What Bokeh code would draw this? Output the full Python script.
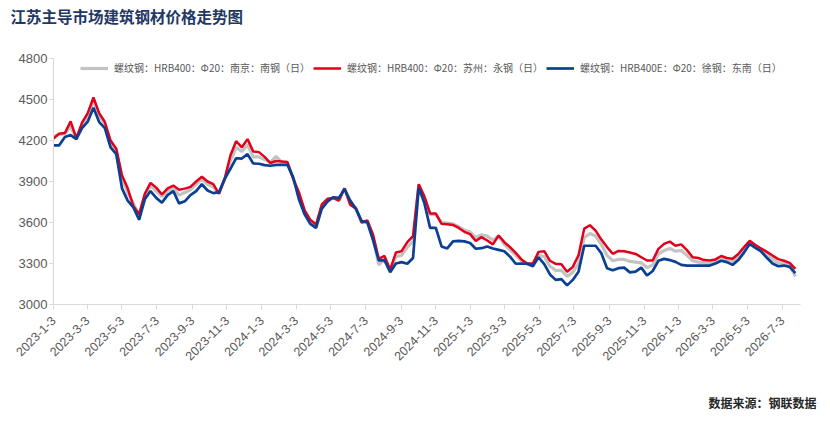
import math
import pandas as pd
from bokeh.plotting import figure
from bokeh.models import FixedTicker, Range1d, Legend, LegendItem, ColumnDataSource, Title
from bokeh.embed import file_html
from bokeh.resources import INLINE

title_text = "江苏主导市场建筑钢材价格走势图"
source_text = "数据来源：钢联数据"
series_names = [
    "螺纹钢：HRB400：Φ20：南京：南钢（日）",
    "螺纹钢：HRB400：Φ20：苏州：永钢（日）",
    "螺纹钢：HRB400E：Φ20：徐钢：东南（日）",
]
start_date = "2023-01-03"
end_date = "2026-08-04"
step_days = 10

# gray: Nanjing
nanjing = [
    4230, 4245, 4250, 4300, 4220, 4310, 4380, 4490, 4380, 4320,
    4180, 4130, 3920, 3820, 3740, 3650, 3795, 3870, 3830, 3790,
    3830, 3850, 3800, 3820, 3840, 3880, 3920, 3880, 3860, 3815,
    3915, 4050, 4150, 4120, 4170, 4080, 4080, 4060, 4040, 4085,
    4040, 4035, 3925, 3800, 3670, 3600, 3560, 3715, 3765, 3780,
    3765, 3850, 3740, 3705, 3600, 3610, 3490, 3290, 3330, 3245,
    3350, 3360, 3420, 3460, 3875, 3780, 3660, 3660, 3600, 3595,
    3590, 3570, 3545, 3530, 3490, 3510, 3500, 3470, 3500, 3440,
    3400, 3360, 3320, 3295, 3290, 3360, 3350, 3280, 3250, 3250,
    3205, 3235, 3300, 3490, 3520, 3500, 3440, 3360, 3320, 3330,
    3330, 3315, 3310, 3305, 3270, 3290, 3370, 3395, 3410, 3390,
    3395, 3360, 3320, 3310, 3305, 3300, 3310, 3335, 3325, 3315,
    3345, 3400, 3455, 3425, 3400, 3365, 3330, 3305, 3300, 3290,
    3205,
]
# red: Suzhou
suzhou = [
    4215, 4250, 4255, 4340, 4215, 4330, 4400, 4515, 4400, 4335,
    4200, 4140, 3946, 3850, 3720, 3660, 3810, 3890, 3855, 3805,
    3850, 3870, 3840, 3848, 3861, 3900, 3935, 3900, 3880, 3810,
    3920, 4090, 4195, 4150, 4210, 4120, 4115, 4080, 4035, 4050,
    4047, 4042, 3920, 3822, 3690, 3620, 3585, 3730, 3773, 3780,
    3760, 3850, 3730, 3700, 3600, 3615, 3510, 3334, 3355, 3255,
    3380, 3390, 3456, 3500, 3880, 3790, 3665, 3665, 3590, 3588,
    3582, 3560, 3532, 3515, 3465, 3493, 3468, 3440, 3505, 3456,
    3420, 3378, 3330, 3300, 3300, 3385, 3390, 3320, 3298, 3295,
    3240, 3275, 3360, 3555, 3580, 3541, 3475, 3420, 3371, 3392,
    3390, 3380, 3370, 3346, 3322, 3322, 3407, 3444, 3460, 3430,
    3440, 3398, 3346, 3340, 3325, 3322, 3330, 3355, 3340, 3335,
    3370, 3420, 3466, 3435, 3410, 3385, 3358, 3332, 3320, 3305,
    3260,
]
# blue: Xuzhou
xuzhou = [
    4165, 4165, 4225, 4240, 4210, 4290, 4338, 4440, 4335, 4290,
    4150, 4100, 3850, 3760, 3710, 3620, 3770, 3830, 3780, 3745,
    3800, 3830, 3740, 3755, 3800, 3830, 3880, 3834, 3815, 3822,
    3920, 3993, 4070, 4068, 4100, 4032, 4030, 4020, 4015, 4022,
    4022, 4022, 3930, 3770, 3660, 3590, 3560, 3700, 3752, 3785,
    3780, 3845, 3760, 3700, 3610, 3600, 3470, 3322, 3325, 3236,
    3300, 3310, 3298, 3340, 3855, 3740, 3560, 3560, 3425, 3410,
    3462, 3465, 3462, 3450, 3408, 3412, 3425, 3410, 3400, 3390,
    3350, 3298, 3300, 3298, 3280, 3345, 3295, 3220, 3180, 3186,
    3140, 3180, 3240, 3430, 3430, 3430, 3375, 3265, 3250, 3266,
    3270, 3235, 3240, 3270, 3212, 3245, 3320, 3334, 3325, 3312,
    3290, 3285, 3285, 3285, 3285, 3285, 3300, 3320, 3310, 3290,
    3325, 3380, 3442, 3415, 3388, 3342, 3300, 3280, 3285, 3275,
    3230,
]
y_ticks = [3000, 3300, 3600, 3900, 4200, 4500, 4800]
x_tick_labels = [
    "2023-1-3", "2023-3-3", "2023-5-3", "2023-7-3", "2023-9-3", "2023-11-3",
    "2024-1-3", "2024-3-3", "2024-5-3", "2024-7-3", "2024-9-3", "2024-11-3",
    "2025-1-3", "2025-3-3", "2025-5-3", "2025-7-3", "2025-9-3", "2025-11-3",
    "2026-1-3", "2026-3-3", "2026-5-3", "2026-7-3",
]

dates = pd.date_range(start_date, periods=len(suzhou), freq=f"{step_days}D")
src = ColumnDataSource(dict(date=dates, nj=nanjing, sz=suzhou, xz=xuzhou))

def ms(ts):
    return float(pd.Timestamp(ts).value // 10**6)

tick_vals = [ms(pd.to_datetime(t)) for t in x_tick_labels]

p = figure(width=822, height=424, x_axis_type="datetime",
           output_backend="svg", toolbar_location=None,
           x_range=Range1d(ms(start_date), ms(end_date)),
           y_range=Range1d(3000, 4800),
           min_border_left=53, min_border_right=22,
           min_border_top=58, min_border_bottom=120)
p.outline_line_color = None
p.grid.visible = False
p.background_fill_color = "white"
p.border_fill_color = "white"

# trailing empty line pushes the one-line title up into the top margin
p.title.text = title_text + "\n"
p.title.align = "left"
p.title.offset = -43
p.title.standoff = 0
p.title.text_font = "Noto Sans CJK SC"
p.title.text_font_style = "bold"
p.title.text_font_size = "15.5px"
p.title.text_line_height = 1.38
p.title.text_color = "#1F3864"
p.title.vertical_align = "top"

src_title = Title(text="\n" + source_text, align="right", offset=-16,
                  standoff=19, vertical_align="top",
                  text_font="Noto Sans CJK SC", text_font_style="bold",
                  text_font_size="12px", text_color="#262626")
p.add_layout(src_title, "below")

r_nj = p.line("date", "nj", source=src, line_color="#C3C3C3", line_width=3.2)
r_sz = p.line("date", "sz", source=src, line_color="#E2001A", line_width=2.5)
r_xz = p.line("date", "xz", source=src, line_color="#0B3F94", line_width=2.7)

font = "Liberation Sans"
p.yaxis.ticker = FixedTicker(ticks=y_ticks)
p.yaxis.minor_tick_line_color = None
p.yaxis.major_tick_in = 0
p.yaxis.major_tick_out = 4
p.yaxis.axis_line_color = "#D9D9D9"
p.yaxis.major_tick_line_color = "#D9D9D9"
p.yaxis.major_label_text_font = font
p.yaxis.major_label_text_font_size = "13px"
p.yaxis.major_label_text_color = "#595959"
p.yaxis.major_label_standoff = 2

p.xaxis.ticker = FixedTicker(ticks=tick_vals)
p.xaxis.major_label_overrides = {v: t for v, t in zip(tick_vals, x_tick_labels)}
p.xaxis.minor_tick_line_color = None
p.xaxis.major_tick_in = 0
p.xaxis.major_tick_out = 5
p.xaxis.axis_line_color = "#D9D9D9"
p.xaxis.major_tick_line_color = "#D9D9D9"
p.xaxis.major_label_orientation = math.pi / 4
p.xaxis.major_label_text_font = font
p.xaxis.major_label_text_font_size = "12.5px"
p.xaxis.major_label_text_color = "#595959"
p.xaxis.major_label_standoff = 9

legend = Legend(items=[
    LegendItem(label=series_names[0], renderers=[r_nj]),
    LegendItem(label=series_names[1], renderers=[r_sz]),
    LegendItem(label=series_names[2], renderers=[r_xz]),
], orientation="horizontal", location=(27, 229))
legend.label_text_font = "Noto Sans CJK SC"
legend.label_text_font_size = "10px"
legend.label_text_color = "#595959"
legend.glyph_width = 28
legend.glyph_height = 14
legend.label_height = 14
legend.label_standoff = 6
legend.spacing = 3
legend.padding = 0
legend.margin = 0
legend.border_line_color = None
legend.background_fill_alpha = 0
p.add_layout(legend, "center")

open("out.html", "w").write(file_html(p, INLINE))
